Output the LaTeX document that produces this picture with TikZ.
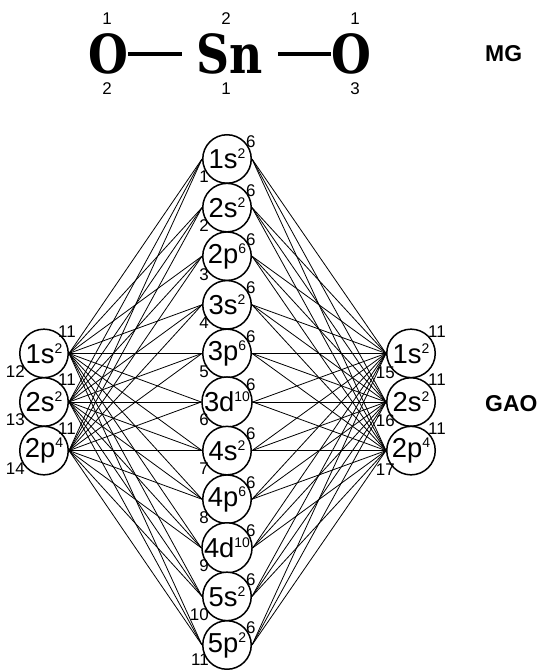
\documentclass[tikz,border=0pt]{standalone}
\usepackage{fontspec}
\setmainfont{Liberation Sans}
\newfontfamily\formulafont{DejaVu Serif}
\newcommand\orb[2]{#1\raisebox{10bp}{\fontsize{14}{14}\selectfont #2}}
\begin{document}
\begin{tikzpicture}[x=1bp,y=-1bp,
  orbital/.style={circle, draw, line width=1.5bp, minimum size=48.5bp, inner sep=0pt,
                  fill=white, font=\fontsize{27.5}{27.5}\selectfont},
  num/.style={inner sep=0pt, font=\fontsize{17}{17}\selectfont},
  link/.style={line width=0.8bp},
  bond/.style={line width=3.5bp},
  atom/.style={inner sep=0pt, font=\formulafont\bfseries\fontsize{54}{54}\selectfont},
  tag/.style={inner sep=0pt, anchor=west, font=\bfseries\fontsize{23}{23}\selectfont}]
\useasboundingbox[fill=white] (0,0) rectangle (545,670);

% molecular graph O -- Sn -- O
\node[atom] (o1) at (108,54) {\scalebox{0.85}[1]{O}};
\node[atom] (sn) at (230,54) {\scalebox{0.85}[1]{Sn}};
\node[atom] (o2) at (351,54) {\scalebox{0.85}[1]{O}};
\draw[bond, shorten >=15bp] (o1.east) -- (sn.west);
\draw[bond, shorten <=15bp] (sn.east) -- (o2.west);
\node[num] (o1t) at (107,19) {1};
\node[num] (o1b) at (107,89) {2};
\node[num] (snt) at (226,19) {2};
\node[num] (snb) at (226,89) {1};
\node[num] (o2t) at (355,19) {1};
\node[num] (o2b) at (355,89) {3};
\node[tag] (mg) at (485,54) {MG};
\node[tag] (gao) at (485,404) {GAO};

% Sn orbitals
\foreach \a/\b [count=\i] in {1s/2,2s/2,2p/6,3s/2,3p/6,3d/10,4s/2,4p/6,4d/10,5s/2,5p/2} {
  \pgfmathsetmacro\yy{159+48.6*(\i-1)}
  \node[orbital] (m\i) at (227,\yy) {\orb{\a}{\b}};
  \node[num, anchor=west] (mt\i) at (246,\yy-17) {6};
  \pgfmathsetmacro\dy{ifthenelse(\i==11,15,18)}
  \node[num, anchor=east] (mb\i) at (209,\yy+\dy) {\i};
}

% O orbitals
\foreach \a/\b/\l/\r [count=\j] in {1s/2/12/15,2s/2/13/16,2p/4/14/17} {
  \pgfmathsetmacro\yy{159+48.6*(\j+3)}
  \node[orbital] (l\j) at (44,\yy) {\orb{\a}{\b}};
  \node[orbital] (r\j) at (411,\yy) {\orb{\a}{\b}};
  \node[num, anchor=west] (lt\j) at (58,\yy-22) {11};
  \node[num, anchor=east] (lb\j) at (25,\yy+18) {\l};
  \node[num, anchor=west] (rt\j) at (428,\yy-22) {11};
  \node[num, anchor=east] (rb\j) at (395,\yy+19) {\r};
}

% connections
\foreach \j in {1,2,3} {
  \foreach \i in {1,...,11} {
    \draw[link] (l\j.east) -- (m\i.west);
    \draw[link] (m\i.east) -- (r\j.west);
  }
}
\end{tikzpicture}
\end{document}
